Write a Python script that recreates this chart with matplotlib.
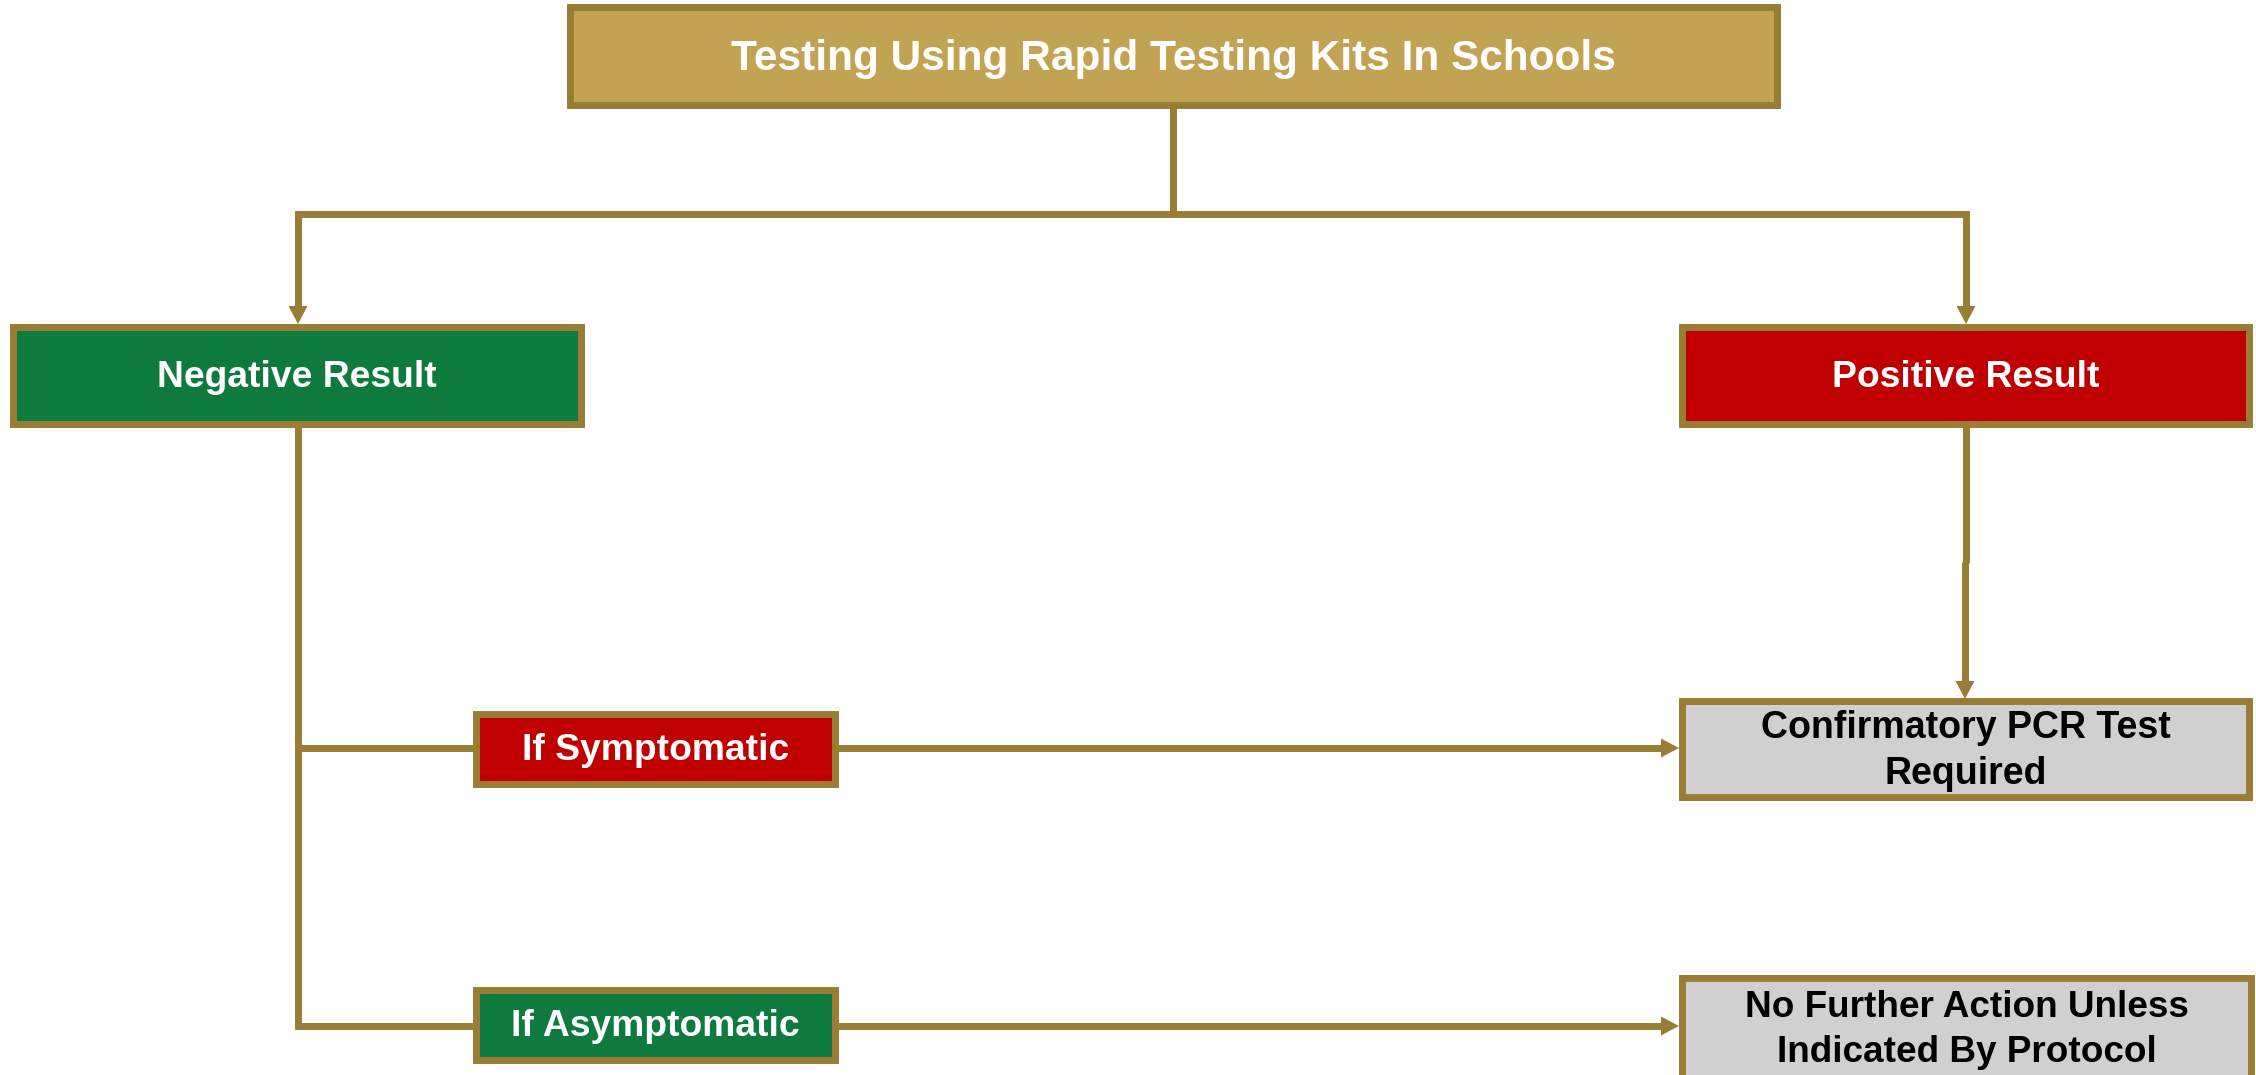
import matplotlib.pyplot as plt
from matplotlib.patches import Rectangle, Polygon

# node texts
title_text = "Testing Using Rapid Testing Kits In Schools"
result_labels = ["Negative Result", "Positive Result"]
condition_labels = ["If Symptomatic", "If Asymptomatic"]
outcome_labels = ["Confirmatory PCR Test\nRequired", "No Further Action Unless\nIndicated By Protocol"]

edge = "#9A7D35"
gold = "#C1A353"
green = "#0F7A3E"
red = "#C00000"
grey = "#D0D0D0"
lw = 5

plt.rcParams['font.family'] = ['Liberation Sans', 'DejaVu Sans']
fig = plt.figure(figsize=(22.56, 10.75), dpi=100)
ax = fig.add_axes([0, 0, 1, 1])
ax.set_xlim(0, 2256)
ax.set_ylim(1075, 0)
ax.axis("off")


def box(x0, y0, x1, y1, fc, text, tc, fs, dy=0):
    ax.add_patch(Rectangle((x0, y0), x1 - x0, y1 - y0, facecolor=fc,
                           edgecolor=edge, linewidth=lw, zorder=3))
    ax.text((x0 + x1) / 2, (y0 + y1) / 2 + dy, text, color=tc, fontsize=fs,
            fontweight="bold", ha="center", va="center", zorder=4,
            linespacing=1.35)


def line(xs, ys):
    ax.plot(xs, ys, color=edge, lw=lw, solid_capstyle="butt",
            solid_joinstyle="miter", zorder=2)


def head(x, y, direction):
    # filled triangle, tip at (x, y)
    L, W = 18, 9.5
    if direction == "down":
        pts = [(x, y), (x - W, y - L), (x + W, y - L)]
    else:
        pts = [(x, y), (x - L, y - W), (x - L, y + W)]
    ax.add_patch(Polygon(pts, closed=True, facecolor=edge, edgecolor="none", zorder=2))


# top node
box(570, 7, 1777, 105, gold, title_text, "white", 30.5, dy=3)
line([1173, 1173], [105, 214])
line([298, 298, 1966, 1966], [308, 214, 214, 308])
head(298, 324, "down")
head(1966, 324, "down")

# result nodes
box(13, 327, 581, 424, green, result_labels[0], "white", 26.8, dy=2)
box(1682, 327, 2249, 424, red, result_labels[1], "white", 26.8, dy=2)

# negative branch
line([298, 298, 476], [424, 1026, 1026])
line([298, 476], [748, 748])
box(476, 714, 835, 784, red, condition_labels[0], "white", 26.8, dy=2)
box(476, 990, 835, 1060, green, condition_labels[1], "white", 26.8, dy=2)
line([835, 1664], [748, 748])
head(1679, 748, "right")
line([835, 1664], [1026, 1026])
head(1679, 1026, "right")

# positive branch (slight jog in the connector as in the source)
line([1966, 1966], [424, 563])
line([1965, 1965], [562, 684])
head(1965, 699, "down")

# outcomes
box(1682, 701, 2249, 797, grey, outcome_labels[0], "black", 27, dy=2)
box(1682, 978, 2251, 1078, grey, outcome_labels[1], "black", 26.6, dy=2)

fig.savefig("out.png", dpi=100)
